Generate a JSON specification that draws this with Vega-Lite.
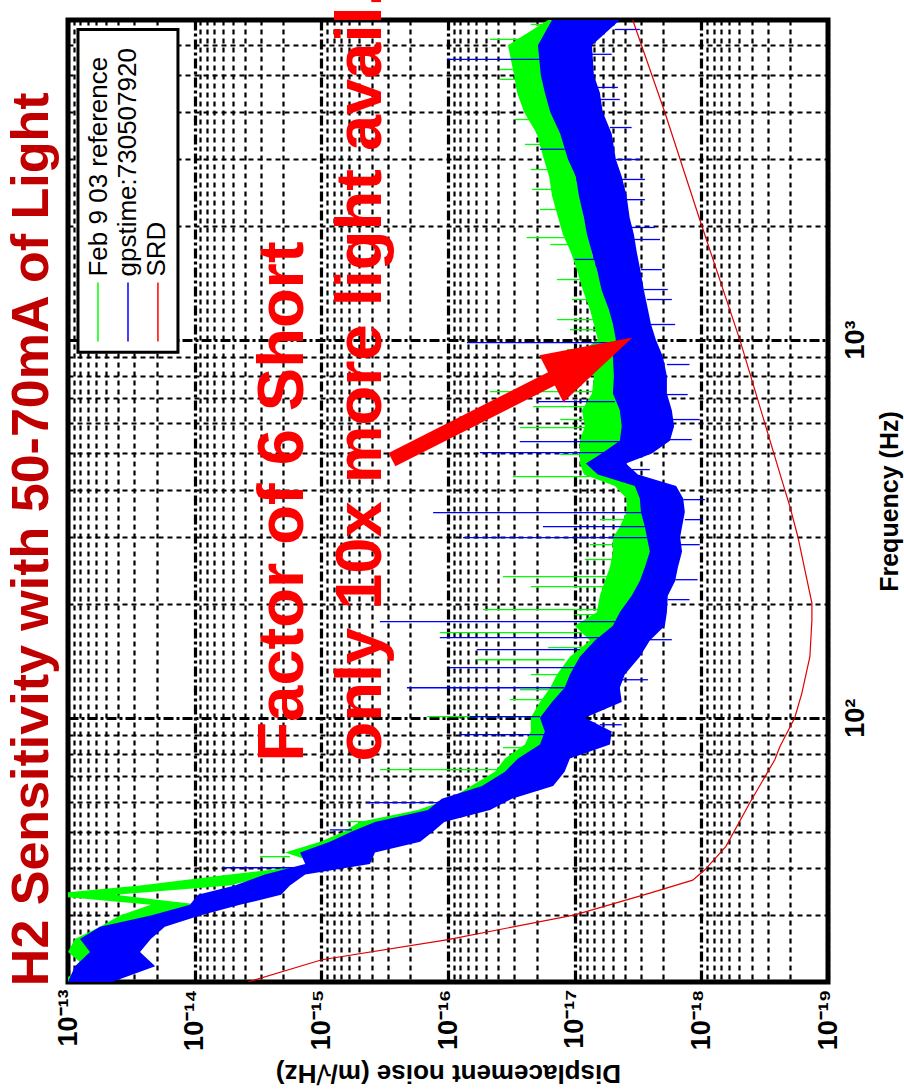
{
  "$schema": "https://vega.github.io/schema/vega-lite/v6.json",
  "width": 760,
  "height": 962,
  "autosize": {"type": "none"},
  "padding": {"left": 68, "top": 20, "right": 76, "bottom": 109},
  "background": "white",
  "config": {
    "view": {"stroke": "black", "strokeWidth": 5},
    "font": "Liberation Sans"
  },
  "datasets": {
    "green": [
      {"f": 7000, "n": 1.62e-17, "n2": 1.30e-17},
      {"f": 6000, "n": 3.36e-17, "n2": 1.72e-17},
      {"f": 5000, "n": 3.01e-17, "n2": 1.69e-17},
      {"f": 4500, "n": 2.85e-17, "n2": 1.56e-17},
      {"f": 4000, "n": 2.51e-17, "n2": 1.48e-17},
      {"f": 3500, "n": 1.99e-17, "n2": 1.24e-17},
      {"f": 3000, "n": 1.75e-17, "n2": 1.09e-17},
      {"f": 2700, "n": 1.59e-17, "n2": 9.78e-18},
      {"f": 2400, "n": 1.51e-17, "n2": 9.1e-18},
      {"f": 2100, "n": 1.35e-17, "n2": 8.45e-18},
      {"f": 1900, "n": 1.24e-17, "n2": 7.86e-18},
      {"f": 1700, "n": 1.07e-17, "n2": 7.3e-18},
      {"f": 1500, "n": 9.43e-18, "n2": 6.57e-18},
      {"f": 1350, "n": 8.61e-18, "n2": 5.88e-18},
      {"f": 1200, "n": 7.58e-18, "n2": 5.2e-18},
      {"f": 1100, "n": 7.05e-18, "n2": 4.9e-18},
      {"f": 1000, "n": 6.57e-18, "n2": 4.56e-18},
      {"f": 900, "n": 1.0e-17, "n2": 4.40e-18},
      {"f": 800, "n": 7.05e-18, "n2": 4.25e-18},
      {"f": 720, "n": 7.3e-18, "n2": 4.40e-18},
      {"f": 650, "n": 8.77e-18, "n2": 3.55e-18},
      {"f": 590, "n": 8.31e-18, "n2": 3.68e-18},
      {"f": 540, "n": 9.1e-18, "n2": 3.47e-18},
      {"f": 500, "n": 9.1e-18, "n2": 3.81e-18},
      {"f": 470, "n": 9.1e-18, "n2": 5.1e-18},
      {"f": 440, "n": 8.45e-18, "n2": 4.56e-18},
      {"f": 410, "n": 4.81e-18, "n2": 2.55e-18},
      {"f": 380, "n": 3.89e-18, "n2": 2.25e-18},
      {"f": 350, "n": 3.89e-18, "n2": 2.21e-18},
      {"f": 320, "n": 4.40e-18, "n2": 2.12e-18},
      {"f": 300, "n": 4.99e-18, "n2": 2.01e-18},
      {"f": 275, "n": 4.99e-18, "n2": 2.05e-18},
      {"f": 250, "n": 5.27e-18, "n2": 2.12e-18},
      {"f": 230, "n": 5.78e-18, "n2": 2.33e-18},
      {"f": 210, "n": 6.33e-18, "n2": 2.55e-18},
      {"f": 190, "n": 6.68e-18, "n2": 2.69e-18},
      {"f": 175, "n": 1.0e-17, "n2": 2.69e-18},
      {"f": 160, "n": 7.58e-18, "n2": 3.06e-18},
      {"f": 145, "n": 1.09e-17, "n2": 4.02e-18},
      {"f": 130, "n": 1.38e-17, "n2": 5.27e-18},
      {"f": 120, "n": 1.56e-17, "n2": 5.78e-18},
      {"f": 110, "n": 1.88e-17, "n2": 6.57e-18},
      {"f": 100, "n": 2.22e-17, "n2": 1.0e-17},
      {"f": 92, "n": 2.22e-17, "n2": 7.86e-18},
      {"f": 85, "n": 2.47e-17, "n2": 8.31e-18},
      {"f": 78, "n": 3.55e-17, "n2": 1.51e-17},
      {"f": 72, "n": 4.26e-17, "n2": 1.62e-17},
      {"f": 66, "n": 6.58e-17, "n2": 1.88e-17},
      {"f": 61, "n": 9.66e-17, "n2": 3.89e-17},
      {"f": 57, "n": 1.73e-16, "n2": 5.80e-17},
      {"f": 53, "n": 5.0e-16, "n2": 1.39e-16},
      {"f": 50, "n": 6.58e-16, "n2": 1.83e-16},
      {"f": 47, "n": 1.02e-15, "n2": 2.87e-16},
      {"f": 44, "n": 1.94e-15, "n2": 5.95e-16},
      {"f": 41, "n": 1.02e-15, "n2": 5.0e-16},
      {"f": 38.5, "n": 5.27e-15, "n2": 2.33e-15},
      {"f": 36, "n": 2.70e-14, "n2": 5.27e-15},
      {"f": 34, "n": 1.66e-13, "n2": 4.25e-14},
      {"f": 32, "n": 2.22e-14, "n2": 9.07e-15},
      {"f": 30, "n": 3.89e-14, "n2": 9.9e-15},
      {"f": 28, "n": 5.59e-14, "n2": 2.22e-14},
      {"f": 26, "n": 8.81e-14, "n2": 3.24e-14},
      {"f": 24, "n": 1.0e-13, "n2": 4.66e-14},
      {"f": 22, "n": 7.34e-14, "n2": 2.47e-14},
      {"f": 20, "n": 1.16e-13, "n2": 5.59e-14}
    ],
    "blue": [
      {"f": 7000, "n": 1.51e-17, "n2": 4.40e-18},
      {"f": 6000, "n": 1.95e-17, "n2": 7.3e-18},
      {"f": 5000, "n": 1.85e-17, "n2": 7.05e-18},
      {"f": 4500, "n": 1.72e-17, "n2": 6.33e-18},
      {"f": 4000, "n": 1.56e-17, "n2": 6.0e-18},
      {"f": 3500, "n": 1.30e-17, "n2": 5.1e-18},
      {"f": 3000, "n": 1.13e-17, "n2": 4.73e-18},
      {"f": 2700, "n": 9.78e-18, "n2": 4.25e-18},
      {"f": 2400, "n": 9.26e-18, "n2": 3.89e-18},
      {"f": 2100, "n": 8.45e-18, "n2": 3.68e-18},
      {"f": 1900, "n": 8.0e-18, "n2": 3.41e-18},
      {"f": 1700, "n": 7.3e-18, "n2": 3.23e-18},
      {"f": 1500, "n": 6.57e-18, "n2": 3.0e-18},
      {"f": 1350, "n": 6.12e-18, "n2": 2.84e-18},
      {"f": 1200, "n": 5.37e-18, "n2": 2.64e-18},
      {"f": 1100, "n": 4.99e-18, "n2": 2.5e-18},
      {"f": 1000, "n": 4.73e-18, "n2": 2.29e-18},
      {"f": 900, "n": 4.99e-18, "n2": 2.01e-18},
      {"f": 800, "n": 4.9e-18, "n2": 1.87e-18},
      {"f": 720, "n": 4.99e-18, "n2": 1.87e-18},
      {"f": 650, "n": 4.40e-18, "n2": 1.71e-18},
      {"f": 590, "n": 4.25e-18, "n2": 1.64e-18},
      {"f": 540, "n": 4.40e-18, "n2": 1.77e-18},
      {"f": 500, "n": 6.12e-18, "n2": 2.46e-18},
      {"f": 470, "n": 8.16e-18, "n2": 3.94e-18},
      {"f": 440, "n": 6.57e-18, "n2": 3.17e-18},
      {"f": 410, "n": 3.35e-18, "n2": 1.58e-18},
      {"f": 380, "n": 3.06e-18, "n2": 1.39e-18},
      {"f": 350, "n": 3.0e-18, "n2": 1.35e-18},
      {"f": 320, "n": 2.79e-18, "n2": 1.42e-18},
      {"f": 300, "n": 2.69e-18, "n2": 1.47e-18},
      {"f": 275, "n": 2.55e-18, "n2": 1.42e-18},
      {"f": 250, "n": 2.79e-18, "n2": 1.53e-18},
      {"f": 230, "n": 3.06e-18, "n2": 1.61e-18},
      {"f": 210, "n": 3.55e-18, "n2": 1.84e-18},
      {"f": 190, "n": 4.40e-18, "n2": 1.87e-18},
      {"f": 175, "n": 4.99e-18, "n2": 1.94e-18},
      {"f": 160, "n": 6.92e-18, "n2": 2.55e-18},
      {"f": 145, "n": 9.1e-18, "n2": 3.06e-18},
      {"f": 130, "n": 1.09e-17, "n2": 4.02e-18},
      {"f": 120, "n": 1.2e-17, "n2": 4.40e-18},
      {"f": 110, "n": 1.51e-17, "n2": 4.25e-18},
      {"f": 100, "n": 1.88e-17, "n2": 8.31e-18},
      {"f": 92, "n": 1.72e-17, "n2": 5.1e-18},
      {"f": 85, "n": 1.88e-17, "n2": 5.27e-18},
      {"f": 78, "n": 2.80e-17, "n2": 1.09e-17},
      {"f": 72, "n": 3.55e-17, "n2": 1.2e-17},
      {"f": 66, "n": 5.39e-17, "n2": 1.48e-17},
      {"f": 61, "n": 1.12e-16, "n2": 3.13e-17},
      {"f": 57, "n": 1.44e-16, "n2": 4.66e-17},
      {"f": 53, "n": 3.77e-16, "n2": 1.07e-16},
      {"f": 50, "n": 5.74e-16, "n2": 1.31e-16},
      {"f": 47, "n": 8.56e-16, "n2": 1.66e-16},
      {"f": 44, "n": 1.47e-15, "n2": 3.77e-16},
      {"f": 41, "n": 1.34e-15, "n2": 4.13e-16},
      {"f": 38.5, "n": 2.79e-15, "n2": 1.34e-15},
      {"f": 36, "n": 4.82e-15, "n2": 1.77e-15},
      {"f": 34, "n": 9.42e-15, "n2": 2.08e-15},
      {"f": 32, "n": 1.09e-14, "n2": 4.39e-15},
      {"f": 30, "n": 2.22e-14, "n2": 9.07e-15},
      {"f": 28, "n": 5.59e-14, "n2": 1.72e-14},
      {"f": 26, "n": 8.04e-14, "n2": 2.22e-14},
      {"f": 24, "n": 6.70e-14, "n2": 2.70e-14},
      {"f": 22, "n": 8.81e-14, "n2": 2.05e-14},
      {"f": 20, "n": 1.0e-13, "n2": 4.49e-14}
    ],
    "gspikes": [
      {"f": 6813, "n": 2.22e-17, "n2": 1.56e-17},
      {"f": 6220, "n": 4.66e-17, "n2": 2.71e-17},
      {"f": 5179, "n": 3.89e-17, "n2": 2.96e-17},
      {"f": 4877, "n": 3.89e-17, "n2": 2.71e-17},
      {"f": 3820, "n": 2.96e-17, "n2": 2.17e-17},
      {"f": 3281, "n": 2.47e-17, "n2": 1.72e-17},
      {"f": 2816, "n": 2.22e-17, "n2": 1.65e-17},
      {"f": 2495, "n": 2.17e-17, "n2": 1.51e-17},
      {"f": 2208, "n": 1.88e-17, "n2": 1.30e-17},
      {"f": 1861, "n": 2.39e-17, "n2": 1.2e-17},
      {"f": 1784, "n": 1.56e-17, "n2": 1.13e-17},
      {"f": 1441, "n": 1.38e-17, "n2": 8.31e-18},
      {"f": 1276, "n": 1.05e-17, "n2": 7.3e-18},
      {"f": 1129, "n": 1.38e-17, "n2": 6.92e-18},
      {"f": 1062, "n": 1.09e-17, "n2": 6.57e-18},
      {"f": 940.7, "n": 1.15e-17, "n2": 9.1e-18},
      {"f": 833, "n": 1.30e-17, "n2": 6.33e-18},
      {"f": 728.6, "n": 4.66e-17, "n2": 6.92e-18},
      {"f": 665, "n": 2.13e-17, "n2": 7.58e-18},
      {"f": 614.4, "n": 1.30e-17, "n2": 8.31e-18},
      {"f": 585, "n": 2.71e-17, "n2": 7.58e-18},
      {"f": 497, "n": 1.30e-17, "n2": 8.77e-18},
      {"f": 434.1, "n": 3.07e-17, "n2": 7.58e-18},
      {"f": 334, "n": 6.33e-18, "n2": 3.89e-18},
      {"f": 286.8, "n": 7.58e-18, "n2": 4.99e-18},
      {"f": 262, "n": 8.31e-18, "n2": 5.1e-18},
      {"f": 236, "n": 3.68e-17, "n2": 5.27e-18},
      {"f": 222.2, "n": 2.22e-17, "n2": 5.27e-18},
      {"f": 193.1, "n": 5.29e-17, "n2": 6.33e-18},
      {"f": 187.3, "n": 1.0e-17, "n2": 6.68e-18},
      {"f": 167.9, "n": 1.16e-16, "n2": 6.92e-18},
      {"f": 153.2, "n": 1.62e-17, "n2": 7.58e-18},
      {"f": 142.3, "n": 5.92e-17, "n2": 1.2e-17},
      {"f": 130.0, "n": 2.22e-17, "n2": 1.38e-17},
      {"f": 118.6, "n": 2.71e-17, "n2": 1.56e-17},
      {"f": 111.6, "n": 3.25e-17, "n2": 1.72e-17},
      {"f": 100.6, "n": 1.46e-16, "n2": 2.22e-17},
      {"f": 83.3, "n": 3.68e-17, "n2": 2.22e-17},
      {"f": 72.9, "n": 3.45e-16, "n2": 3.89e-17},
      {"f": 53.1, "n": 6.28e-16, "n2": 4.53e-16},
      {"f": 42.9, "n": 3.06e-15, "n2": 1.77e-15}
    ],
    "bspikes": [
      {"f": 6607, "n": 4.81e-18, "n2": 3.06e-18},
      {"f": 5680, "n": 7.3e-18, "n2": 5.1e-18},
      {"f": 5505, "n": 1.02e-16, "n2": 1.72e-17},
      {"f": 4642, "n": 6.57e-18, "n2": 4.56e-18},
      {"f": 4314, "n": 6.68e-18, "n2": 4.40e-18},
      {"f": 3637, "n": 5.27e-18, "n2": 3.55e-18},
      {"f": 3186, "n": 1.88e-17, "n2": 1.2e-17},
      {"f": 2993, "n": 4.73e-18, "n2": 3.06e-18},
      {"f": 2651, "n": 4.25e-18, "n2": 2.79e-18},
      {"f": 2344, "n": 3.89e-18, "n2": 2.79e-18},
      {"f": 1979, "n": 3.55e-18, "n2": 2.33e-18},
      {"f": 1839, "n": 3.41e-18, "n2": 2.12e-18},
      {"f": 1629, "n": 1.0e-17, "n2": 6.92e-18},
      {"f": 1531, "n": 3.0e-18, "n2": 2.05e-18},
      {"f": 1356, "n": 2.84e-18, "n2": 1.84e-18},
      {"f": 1276, "n": 2.69e-18, "n2": 1.71e-18},
      {"f": 1096, "n": 2.5e-18, "n2": 1.61e-18},
      {"f": 982, "n": 7.08e-17, "n2": 4.40e-18},
      {"f": 859, "n": 1.87e-18, "n2": 1.24e-18},
      {"f": 715.4, "n": 1.87e-18, "n2": 1.28e-18},
      {"f": 685.5, "n": 1.99e-17, "n2": 4.81e-18},
      {"f": 614.4, "n": 1.71e-18, "n2": 1.03e-18},
      {"f": 543.8, "n": 1.77e-18, "n2": 1.19e-18},
      {"f": 537.3, "n": 2.71e-17, "n2": 4.40e-18},
      {"f": 502.5, "n": 5.61e-17, "n2": 5.27e-18},
      {"f": 453, "n": 4.02e-18, "n2": 2.55e-18},
      {"f": 377.3, "n": 1.39e-18, "n2": 9.39e-19},
      {"f": 348.5, "n": 1.31e-16, "n2": 2.79e-18},
      {"f": 334, "n": 1.35e-18, "n2": 9.73e-19},
      {"f": 320.1, "n": 1.78e-17, "n2": 2.79e-18},
      {"f": 299.4, "n": 7.61e-17, "n2": 2.69e-18},
      {"f": 286.8, "n": 1.47e-18, "n2": 1.03e-18},
      {"f": 231.7, "n": 1.61e-18, "n2": 1.07e-18},
      {"f": 205.2, "n": 1.84e-18, "n2": 1.24e-18},
      {"f": 179.5, "n": 3.45e-16, "n2": 4.81e-18},
      {"f": 162.8, "n": 1.16e-16, "n2": 6.33e-18},
      {"f": 160.8, "n": 2.55e-18, "n2": 1.71e-18},
      {"f": 151.4, "n": 5.92e-17, "n2": 9.1e-18},
      {"f": 135.6, "n": 9.66e-17, "n2": 1.0e-17},
      {"f": 126.0, "n": 4.25e-18, "n2": 2.64e-18},
      {"f": 120.0, "n": 2.11e-16, "n2": 1.2e-17},
      {"f": 100.6, "n": 6.71e-17, "n2": 1.88e-17},
      {"f": 95.8, "n": 6.33e-18, "n2": 4.25e-18},
      {"f": 90.2, "n": 8.06e-17, "n2": 1.72e-17},
      {"f": 59.6, "n": 4.38e-16, "n2": 1.12e-16},
      {"f": 50.5, "n": 8.56e-16, "n2": 5.74e-16},
      {"f": 40.1, "n": 6.0e-15, "n2": 1.34e-15}
    ],
    "srd": [
      {"f": 7000, "n": 3.48e-18},
      {"f": 3986, "n": 1.94e-18},
      {"f": 2077, "n": 1.03e-18},
      {"f": 1000, "n": 4.97e-19},
      {"f": 426, "n": 2.32e-19},
      {"f": 362, "n": 2.00e-19},
      {"f": 301, "n": 1.73e-19},
      {"f": 201, "n": 1.34e-19},
      {"f": 181, "n": 1.34e-19},
      {"f": 145, "n": 1.39e-19},
      {"f": 116, "n": 1.61e-19},
      {"f": 100, "n": 1.83e-19},
      {"f": 83.8, "n": 2.40e-19},
      {"f": 77.4, "n": 2.63e-19},
      {"f": 59.6, "n": 4.14e-19},
      {"f": 45.6, "n": 6.41e-19},
      {"f": 39.6, "n": 9.38e-19},
      {"f": 37.2, "n": 1.17e-18},
      {"f": 34.4, "n": 2.51e-18},
      {"f": 30.1, "n": 9.95e-18},
      {"f": 25.9, "n": 1.00e-16},
      {"f": 22.9, "n": 9.9e-16},
      {"f": 20.0, "n": 3.79e-15}
    ],
    "shaft": [{"f": 481.4, "n": 2.77e-16, "f2": 808, "n2": 1.31e-17}],
    "head": [{"f": 893, "n": 7.31e-18}],
    "heading": [{"f": 19.5, "n": 1.44e-13, "t": "H2 Sensitivity with 50-70mA of Light"}],
    "notes": [
      {"f": 76.6, "n": 1.40e-15, "t": "Factor of 6 Short"},
      {"f": 76.6, "n": 3.39e-16, "t": "only 10x more light avail."}
    ],
    "legbox": [{"f": 6607, "f2": 925, "n": 8.34e-14, "n2": 1.355e-14}],
    "leglines": [
      {"f": 1416, "f2": 988, "n": 5.80e-14, "c": "#00ff00"},
      {"f": 1416, "f2": 988, "n": 3.36e-14, "c": "#0000ff"},
      {"f": 1416, "f2": 988, "n": 1.95e-14, "c": "#ff0000"}
    ],
    "legtext": [
      {"f": 1468, "n": 5.69e-14, "t": "Feb 9 03 reference"},
      {"f": 1468, "n": 3.36e-14, "t": "gpstime:730507920"},
      {"f": 1468, "n": 1.99e-14, "t": "SRD"}
    ]
  },
  "encoding": {
    "x": {
      "field": "n",
      "type": "quantitative",
      "scale": {"type": "log", "domain": [1e-19, 1e-13], "reverse": true, "nice": false},
      "axis": {
        "orient": "bottom",
        "values": [1e-19, 2e-19, 3e-19, 4e-19, 5e-19, 6e-19, 7e-19, 8e-19, 9e-19,
                   1e-18, 2e-18, 3e-18, 4e-18, 5e-18, 6e-18, 7e-18, 8e-18, 9e-18,
                   1e-17, 2e-17, 3e-17, 4e-17, 5e-17, 6e-17, 7e-17, 8e-17, 9e-17,
                   1e-16, 2e-16, 3e-16, 4e-16, 5e-16, 6e-16, 7e-16, 8e-16, 9e-16,
                   1e-15, 2e-15, 3e-15, 4e-15, 5e-15, 6e-15, 7e-15, 8e-15, 9e-15,
                   1e-14, 2e-14, 3e-14, 4e-14, 5e-14, 6e-14, 7e-14, 8e-14, 9e-14, 1e-13],
        "grid": true,
        "gridColor": "black",
        "gridOpacity": 1,
        "gridWidth": {"condition": {"test": "abs(log(datum.value)/LN10 - round(log(datum.value)/LN10)) < 0.001", "value": 3.2}, "value": 2.2},
        "gridDash": {"condition": {"test": "abs(log(datum.value)/LN10 - round(log(datum.value)/LN10)) < 0.001", "value": [10, 3, 3, 3]}, "value": [5, 4]},
        "ticks": false,
        "domain": false,
        "labelExpr": "abs(datum.value/1e-13-1)<1e-6 ? '10⁻¹³' : abs(datum.value/1e-14-1)<1e-6 ? '10⁻¹⁴' : abs(datum.value/1e-15-1)<1e-6 ? '10⁻¹⁵' : abs(datum.value/1e-16-1)<1e-6 ? '10⁻¹⁶' : abs(datum.value/1e-17-1)<1e-6 ? '10⁻¹⁷' : abs(datum.value/1e-18-1)<1e-6 ? '10⁻¹⁸' : abs(datum.value/1e-19-1)<1e-6 ? '10⁻¹⁹' : ''",
        "labelAngle": 270,
        "labelAlign": "right",
        "labelBaseline": "middle",
        "labelPadding": 7,
        "labelFont": "Liberation Sans",
        "labelFontSize": 27,
        "labelFontWeight": "bold",
        "labelColor": "black",
        "labelOverlap": false,
        "labelFlush": false,
        "title": "Displacement noise (m/√Hz)",
        "titleAngle": 180,
        "titleBaseline": "bottom",
        "titlePadding": 9,
        "titleFont": "Liberation Sans",
        "titleFontSize": 26,
        "titleFontWeight": "bold",
        "titleColor": "black"
      }
    },
    "y": {
      "field": "f",
      "type": "quantitative",
      "scale": {"type": "log", "domain": [20, 7000], "nice": false},
      "axis": {
        "orient": "right",
        "values": [20, 30, 40, 50, 60, 70, 80, 90, 100, 200, 300, 400, 500, 600, 700, 800, 900, 1000, 2000, 3000, 4000, 5000, 6000, 7000],
        "grid": true,
        "gridColor": "black",
        "gridOpacity": 1,
        "gridWidth": {"condition": {"test": "datum.value == 100 || datum.value == 1000", "value": 3.2}, "value": 2.2},
        "gridDash": {"condition": {"test": "datum.value == 100 || datum.value == 1000", "value": [10, 3, 3, 3]}, "value": [5, 4]},
        "ticks": false,
        "domain": false,
        "labelExpr": "datum.value == 100 ? '10²' : datum.value == 1000 ? '10³' : ''",
        "labelAngle": 270,
        "labelAlign": "center",
        "labelBaseline": "top",
        "labelPadding": 14,
        "labelFont": "Liberation Sans",
        "labelFontSize": 27,
        "labelFontWeight": "bold",
        "labelColor": "black",
        "labelOverlap": false,
        "labelFlush": false,
        "title": "Frequency (Hz)",
        "titleAngle": 270,
        "titleBaseline": "top",
        "titlePadding": 9,
        "titleFont": "Liberation Sans",
        "titleFontSize": 25,
        "titleFontWeight": "bold",
        "titleColor": "black"
      }
    }
  },
  "layer": [
    {
      "data": {"name": "green"},
      "mark": {"type": "area", "orient": "horizontal", "color": "#00ff00", "clip": true, "opacity": 1},
      "encoding": {"x2": {"field": "n2"}}
    },
    {
      "data": {"name": "gspikes"},
      "mark": {"type": "rule", "color": "#00ff00", "strokeWidth": 1.3, "clip": true},
      "encoding": {"x2": {"field": "n2"}}
    },
    {
      "data": {"name": "blue"},
      "mark": {"type": "area", "orient": "horizontal", "color": "#0000ff", "clip": true, "opacity": 1},
      "encoding": {"x2": {"field": "n2"}}
    },
    {
      "data": {"name": "bspikes"},
      "mark": {"type": "rule", "color": "#0000ff", "strokeWidth": 1.3, "clip": true},
      "encoding": {"x2": {"field": "n2"}}
    },
    {
      "data": {"name": "srd"},
      "mark": {"type": "line", "color": "#e00000", "strokeWidth": 1.2, "clip": true},
      "encoding": {"order": {"field": "f", "type": "quantitative"}}
    },
    {
      "data": {"name": "notes"},
      "mark": {"type": "text", "angle": 270, "align": "left", "baseline": "alphabetic", "font": "Liberation Sans", "fontSize": 65, "fontWeight": "bold", "color": "#ff0000"},
      "encoding": {"text": {"field": "t"}}
    },
    {
      "data": {"name": "heading"},
      "mark": {"type": "text", "angle": 270, "align": "left", "baseline": "alphabetic", "font": "Liberation Sans", "fontSize": 52, "fontWeight": "bold", "color": "#c00000"},
      "encoding": {"text": {"field": "t"}}
    },
    {
      "data": {"name": "shaft"},
      "mark": {"type": "rule", "color": "#ff0000", "strokeWidth": 15, "strokeCap": "butt"},
      "encoding": {"x2": {"field": "n2"}, "y2": {"field": "f2"}}
    },
    {
      "data": {"name": "head"},
      "mark": {"type": "point", "shape": "M0,-1L0.58,1L-0.58,1Z", "size": 8281, "angle": 63, "filled": true, "color": "#ff0000", "opacity": 1, "strokeWidth": 0}
    },
    {
      "data": {"name": "legbox"},
      "mark": {"type": "rect", "fill": "white", "stroke": "black", "strokeWidth": 3},
      "encoding": {"x2": {"field": "n2"}, "y2": {"field": "f2"}}
    },
    {
      "data": {"name": "leglines"},
      "mark": {"type": "rule", "strokeWidth": 1.5},
      "encoding": {"y2": {"field": "f2"}, "color": {"field": "c", "type": "nominal", "scale": null, "legend": null}}
    },
    {
      "data": {"name": "legtext"},
      "mark": {"type": "text", "angle": 270, "align": "left", "baseline": "middle", "font": "Liberation Sans", "fontSize": 26, "fontWeight": "normal", "color": "black"},
      "encoding": {"text": {"field": "t"}}
    }
  ]
}
